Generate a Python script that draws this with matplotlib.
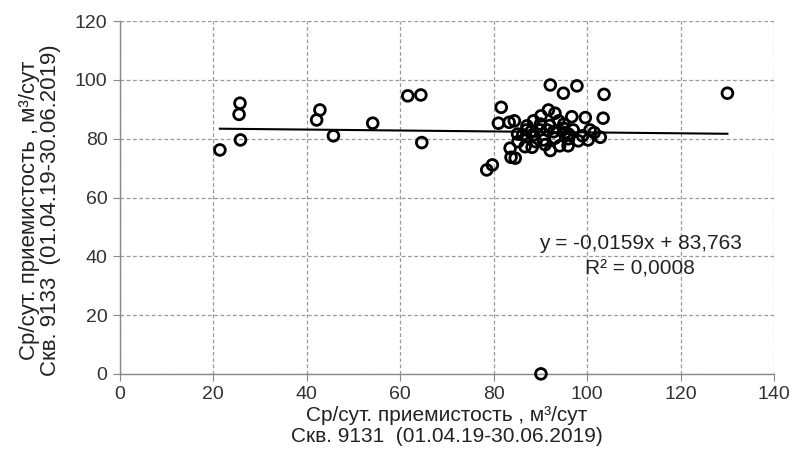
import matplotlib
matplotlib.use("Agg")
import matplotlib.pyplot as plt
import numpy as np

# scatter data (Скв. 9131 vs Скв. 9133)
x_9131 = [21.4, 25.7, 25.5, 25.8, 42.8, 42.1, 45.7, 54.1, 61.6, 64.4, 64.6,
          130.0, 90.1,
          92.1, 97.8, 94.9, 103.6, 81.6, 81.0, 83.3, 84.4, 103.4, 99.6, 96.7,
          91.7, 93.1, 90.1, 88.5, 87.1, 93.9, 78.5, 79.7, 83.5, 83.7, 84.6,
          85.2, 86.7, 88.2, 92.1, 94.1, 95.9, 98.1, 100.2, 102.8, 101.5, 100.6,
          85.1, 86.9, 88.5, 90.6, 93.1, 95.3, 96.0, 94.9, 89.9, 91.4, 92.8,
          86.2, 88.0, 90.0, 92.0, 95.0, 97.0, 89.0, 91.0, 87.0, 96.0, 99.0]
y_9133 = [76.2, 92.1, 88.3, 79.6, 89.8, 86.4, 81.0, 85.3, 94.6, 94.9, 78.7,
          95.5, 0.0,
          98.3, 98.0, 95.5, 95.1, 90.7, 85.3, 85.6, 86.1, 87.0, 87.2, 87.5,
          89.8, 88.7, 87.8, 86.1, 84.4, 86.1, 69.4, 71.1, 76.8, 73.7, 73.4,
          79.0, 77.3, 77.1, 76.0, 77.6, 77.6, 79.3, 79.6, 80.5, 82.1, 83.0,
          81.6, 80.7, 81.3, 79.6, 80.2, 82.1, 81.6, 83.6, 83.0, 83.0, 82.4,
          81.3, 82.5, 85.0, 84.5, 85.0, 83.0, 79.0, 78.0, 83.0, 80.0, 81.0]

slope = -0.0159
intercept = 83.763
r2 = 0.0008

x_ticks = [0, 20, 40, 60, 80, 100, 120, 140]
y_ticks = [0, 20, 40, 60, 80, 100, 120]

plt.rcParams['font.family'] = ['Liberation Sans', 'DejaVu Sans']

fig = plt.figure(figsize=(7.94, 4.61), dpi=100)
ax = fig.add_axes([0.151, 0.189, 0.824, 0.765])

ax.scatter(x_9131, y_9133, s=60, facecolors='none', edgecolors='black',
           linewidths=2.0, zorder=3, clip_on=False)

# linear trend line over the data range
xt = np.array([min(x_9131), max(x_9131)])
ax.plot(xt, slope * xt + intercept, color='black', lw=1.5, zorder=2)

ax.set_xlim(0, 140)
ax.set_ylim(0, 120)
ax.set_xticks(x_ticks)
ax.set_yticks(y_ticks)
ax.grid(True, color='#999999', linestyle=(0, (3, 2)), linewidth=0.9)
ax.set_axisbelow(True)

for s in ['top', 'right']:
    ax.spines[s].set_visible(False)
for s in ['left', 'bottom']:
    ax.spines[s].set_color('#888888')
    ax.spines[s].set_linewidth(1.0)
ax.tick_params(direction='out', length=5, color='#888888', labelsize=14,
               labelcolor='#333333', pad=4)

ax.set_xlabel('Ср/сут. приемистость , м³/сут\nСкв. 9131  (01.04.19-30.06.2019)',
              fontsize=15, color='#222222', labelpad=2, linespacing=1.15)
ax.set_ylabel('Ср/сут. приемистость , м³/сут\nСкв. 9133  (01.04.19-30.06.2019)',
              fontsize=16, color='#222222', linespacing=1.0)
ax.yaxis.set_label_coords(-0.09, 0.465)

eq = 'y = {:.4f}x + {:.3f}\nR² = {:.4f}'.format(slope, intercept, r2).replace('.', ',')
ax.text(111.3, 40, eq, ha='center', va='center', fontsize=15, color='#222222',
        linespacing=1.45)

fig.savefig('out.png', dpi=100)
